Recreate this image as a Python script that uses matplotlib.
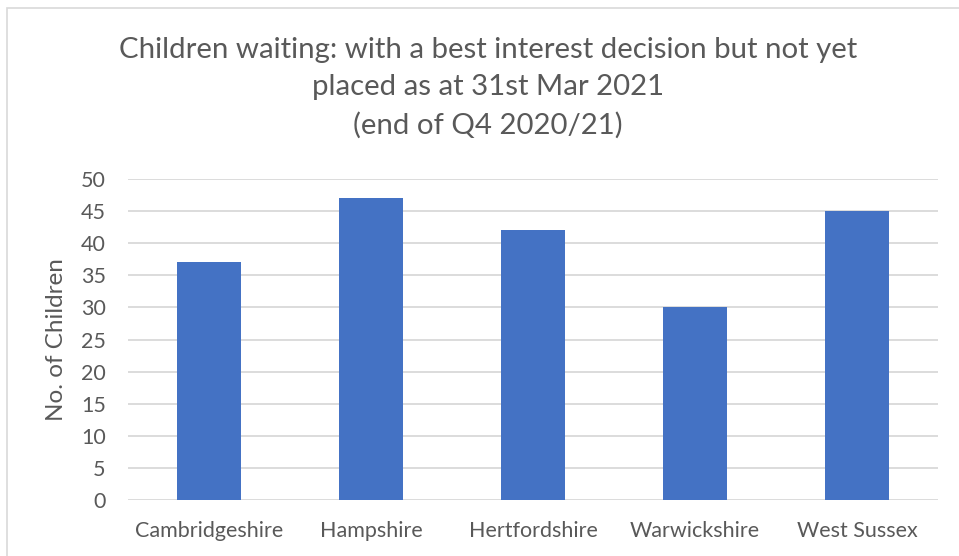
import matplotlib
matplotlib.use("Agg")
import matplotlib.pyplot as plt
from matplotlib.patches import Rectangle

# data
regions = ["Cambridgeshire", "Hampshire", "Hertfordshire", "Warwickshire", "West Sussex"]
waiting = [37, 47, 42, 30, 45]
yticks = [0, 5, 10, 15, 20, 25, 30, 35, 40, 45, 50]

TEXT = "#595959"
plt.rcParams["font.family"] = ["Lato", "DejaVu Sans"]

fig = plt.figure(figsize=(9.59, 5.56), dpi=100)
ax = fig.add_axes([128 / 959, 1 - 500 / 556, (938 - 128) / 959, (500 - 179) / 556])

ax.bar(range(len(regions)), waiting, width=0.4, color="#4472C4", zorder=3)
ax.set_xlim(-0.5, len(regions) - 0.5)
ax.set_ylim(0, 50)
ax.set_yticks(yticks)
ax.set_xticks(range(len(regions)))
ax.set_xticklabels(regions)
ax.yaxis.grid(True, color="#d9d9d9", lw=1.3, zorder=0)
ax.tick_params(length=0, labelsize=15.5, colors=TEXT)
ax.tick_params(axis="x", pad=15)
ax.tick_params(axis="y", pad=16)
for s in ax.spines.values():
    s.set_visible(False)
ax.set_ylabel("No. of Children", fontsize=17.5, color=TEXT, labelpad=10)

fig.text(488 / 959, 1 - 88 / 556,
         "Children waiting: with a best interest decision but not yet\nplaced as at 31st Mar 2021\n(end of Q4 2020/21)",
         ha="center", va="center", fontsize=21.2, color=TEXT, linespacing=1.55)

# chart border
fig.patches.append(Rectangle((7 / 959, -0.1), 1.1, 1 - 8 / 556 + 0.1,
                             transform=fig.transFigure, fill=False,
                             ec="#d9d9d9", lw=1.2))

fig.savefig("out.png", dpi=100)
